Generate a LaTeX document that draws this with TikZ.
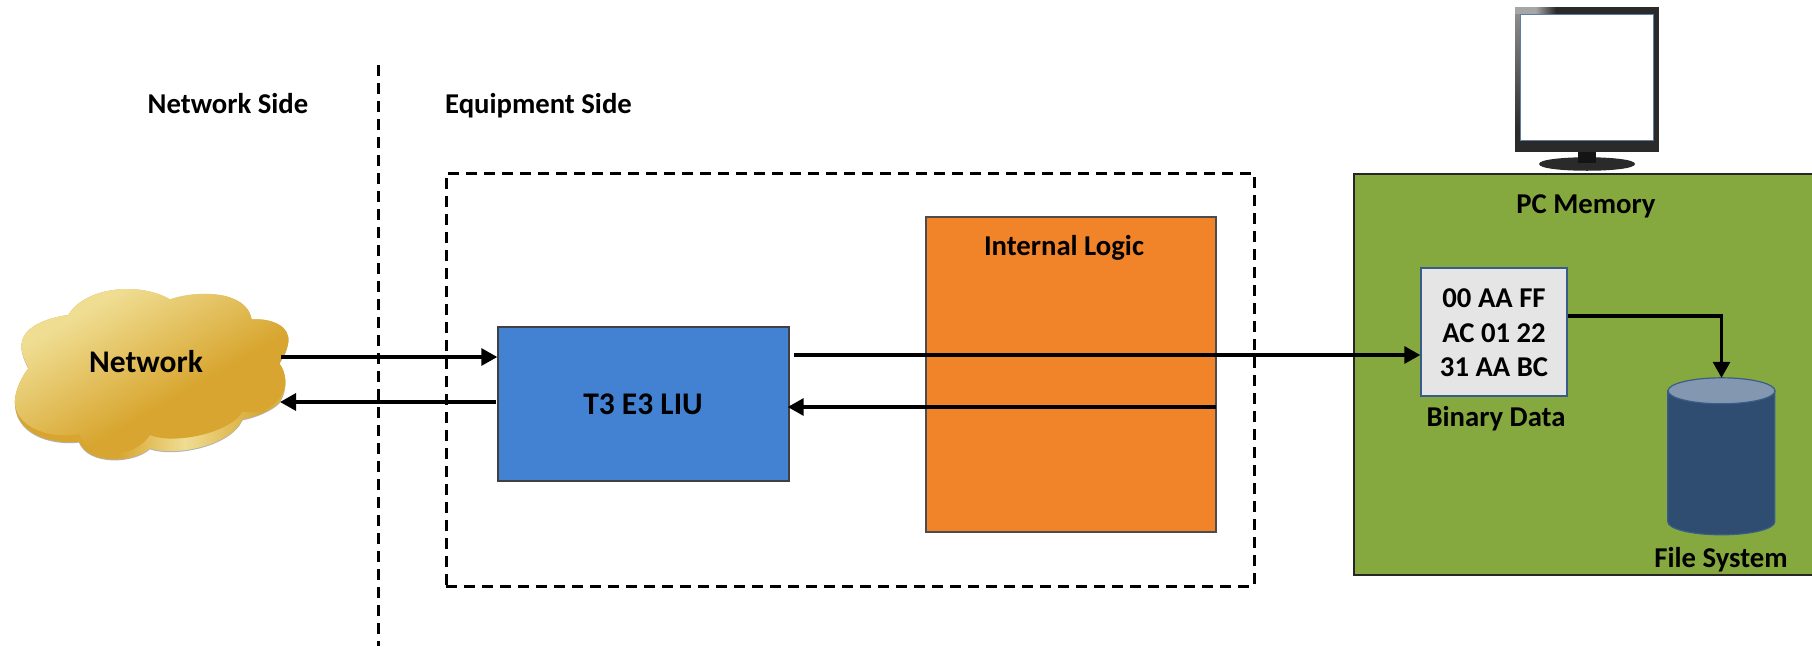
\documentclass[tikz,border=0pt]{standalone}
\usepackage{fontspec}
\setmainfont{Carlito}
\usetikzlibrary{arrows.meta,calc}
\definecolor{cloudA}{HTML}{EFDD92}
\definecolor{cloudB}{HTML}{D8A630}
\definecolor{edgeB}{HTML}{385D8A}
\definecolor{frameK}{HTML}{2A2A2A}
\pgfdeclarehorizontalshading{cloudsh}{100bp}{color(0bp)=(cloudA); color(30bp)=(cloudA); color(58bp)=(cloudB); color(100bp)=(cloudB)}
\pgfdeclarehorizontalshading{cloudsd}{100bp}{color(0bp)=(cloudB); color(44bp)=(cloudB); color(56bp)=(cloudA); color(70bp)=(cloudB); color(84bp)=(cloudA); color(100bp)=(cloudB)}
\tikzset{
  lbl/.style={font=\fontsize{28.7}{28.7}\selectfont\bfseries,inner sep=0pt,text=black,text height=20pt,text depth=6pt,yshift=-2.5pt},
  biglbl/.style={lbl,font=\fontsize{31.5}{31.5}\selectfont\bfseries},
  flow/.style={line width=3.2pt,-{Triangle[length=16pt,width=17pt]}},
  dashline/.style={line width=3pt,dash pattern=on 11pt off 7pt},
  blockbox/.style={draw=edgeB,line width=1.4pt,inner sep=0pt},
}
\newcommand{\cloudface}{(65,250) .. controls (70,205) and (130,175) .. (205,165) .. controls (255,80) and (420,65) .. (510,118) .. controls (590,90) and (740,90) .. (755,178) .. controls (820,175) and (870,200) .. (865,245) .. controls (860,280) and (845,295) .. (838,310) .. controls (860,340) and (865,385) .. (835,420) .. controls (810,445) and (770,465) .. (728,455) .. controls (690,520) and (520,555) .. (450,525) .. controls (400,600) and (270,600) .. (237,522) .. controls (150,540) and (40,500) .. (45,420) .. controls (48,380) and (70,345) .. (85,325) .. controls (75,300) and (62,280) .. (65,250) -- cycle}
\newcommand{\cloudbody}{(65,250) .. controls (70,205) and (130,175) .. (205,165) .. controls (255,80) and (420,65) .. (510,118) .. controls (590,90) and (740,90) .. (755,178) .. controls (820,175) and (870,200) .. (865,245) .. controls (860,280) and (845,295) .. (838,310) .. controls (860,340) and (865,385) .. (838,428) .. controls (815,450) and (770,470) .. (728,478) .. controls (690,560) and (520,590) .. (450,565) .. controls (400,610) and (265,615) .. (237,545) .. controls (150,555) and (40,520) .. (45,420) .. controls (48,380) and (70,345) .. (85,325) .. controls (75,300) and (62,280) .. (65,250) -- cycle}
\begin{document}
\begin{tikzpicture}[x=1pt,y=-1pt]
\useasboundingbox (0,0) rectangle (1812,646);
% side divider
\coordinate (divtop) at (378,65);
\coordinate (divbot) at (378,646);
\draw[dashline] (divtop) -- (divbot);
\node[lbl] (netside) at (228,104) {Network Side};
\node[lbl] (eqside) at (538.5,104) {Equipment Side};
% equipment boundary
\node[draw=black,dashline,minimum width=808pt,minimum height=413pt,inner sep=0pt] (equip) at (850,379.5) {};
% internal logic
\node[blockbox,draw=black!70,minimum width=290pt,minimum height=315pt,fill={rgb,255:red,241;green,132;blue,41}] (logic) at (1071,374.5) {};
\node[lbl] (logiclbl) at (1064,246) {Internal Logic};
% LIU
\node[blockbox,draw=black!75,fill={rgb,255:red,67;green,129;blue,211},minimum width=291pt,minimum height=154pt] (liu) at (643.5,404) {};
\node[biglbl] (liulbl) at (643,405) {T3 E3 LIU};
% cloud
\begin{scope}[shift={(0,260)},x=0.3333pt,y=-0.3333pt]
\fill[black!30,shift={(0,3)}] \cloudbody;
\path[shading=cloudsd,shading angle=0] \cloudbody;
\path[shading=cloudsh,shading angle=-60] \cloudface;
\end{scope}
\node[biglbl] (cloud) at (146,363) {Network};
\coordinate (cloudout) at (281,357);
\coordinate (cloudin) at (280,402);
% PC memory
\node[draw=black!85,line width=2.2pt,fill={rgb,255:red,134;green,169;blue,63},minimum width=470pt,minimum height=401pt,inner sep=0pt,anchor=north west] (pcmem) at (1353,173) {};
\node[lbl] (pclbl) at (1586,204) {PC Memory};
% monitor
\fill[frameK] (1539,164) .. controls (1539,155) and (1635,155) .. (1635,164) .. controls (1635,173) and (1539,173) .. (1539,164) -- cycle;
\fill[black!92] (1578,150) rectangle (1596,163);
\fill[frameK] (1515,7) rectangle (1659,152);
\shade[left color=black!35,right color=frameK,middle color=black!35] (1515,7) rectangle (1556,14);
\shade[top color=black!45,bottom color=frameK] (1515,14) rectangle (1520,130);
\node[draw=edgeB!80,line width=1pt,fill=white,minimum width=133pt,minimum height=126pt,inner sep=0pt,anchor=north west] (screen) at (1520,14) {};
% binary data
\node[blockbox,fill=black!10,minimum width=146pt,minimum height=128pt] (bindata) at (1494,332) {};
\node[lbl] (b1) at (1494,298) {00 AA FF};
\node[lbl] (b2) at (1494,333) {AC 01 22};
\node[lbl] (b3) at (1494,367) {31 AA BC};
\node[lbl] (binlbl) at (1496,417) {Binary Data};
% file system
\node[inner sep=0pt,minimum width=107pt,minimum height=157pt] (fs) at (1721.5,456.5) {};
\draw[edgeB,line width=1.2pt,fill={rgb,255:red,46;green,77;blue,112}] (fs.north west) ++(0,13) -- ++(0,131) arc[start angle=180,end angle=360,x radius=53.5pt,y radius=13pt] -- ++(0,-131) -- cycle;
\draw[edgeB,line width=1.2pt,fill={rgb,255:red,132;green,151;blue,176}] (fs.north) ++(0,13) ellipse[x radius=53.5pt,y radius=13pt];
\node[lbl] (fslbl) at (1721,558) {File System};
% connectors
\coordinate (liuout) at (794,355);
\coordinate (logicin) at (1216,407);
\draw[flow] (cloudout) -- ([yshift=47pt]liu.west);
\draw[flow] ([xshift=-1pt,yshift=2pt]liu.west) -- (cloudin);
\draw[flow] (liuout) -- ([yshift=-23pt]bindata.west);
\draw[flow] (logicin) -- ([xshift=-2pt,yshift=-3pt]liu.east);
\draw[flow] ([yshift=16pt]bindata.east) -| (fs.north);
\end{tikzpicture}
\end{document}
